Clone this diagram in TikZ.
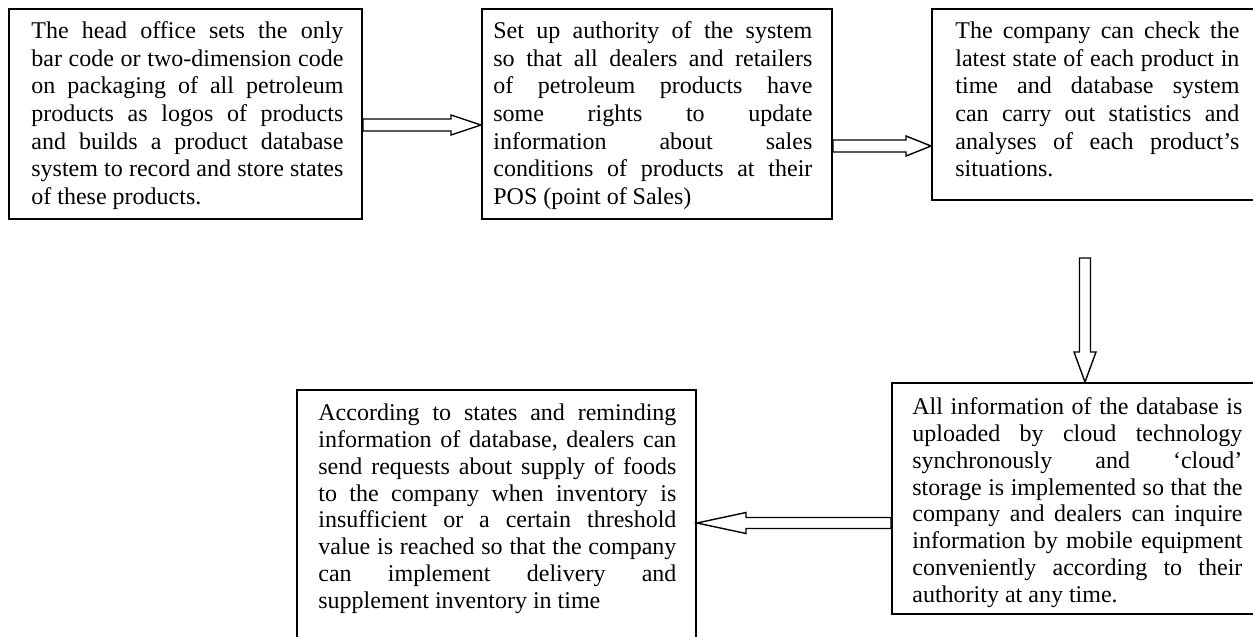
\documentclass[tikz,border=0pt]{standalone}
\usepackage{fontspec}
\setmainfont{Liberation Serif}[Ligatures=NoCommon]
\usetikzlibrary{calc}
\tikzset{
  box/.style={draw, line width=1pt, inner sep=0pt},
  txt/.style={anchor=north west, inner sep=0pt, align=justify,
    font=\fontsize{12}{13.8}\selectfont,
    execute at begin node={\frenchspacing\hyphenpenalty=10000\relax\exhyphenpenalty=10000\relax\tolerance=10000\relax}},
  txtlow/.style={txt, font=\fontsize{12}{13.4}\selectfont},
  arr/.style={draw, line width=0.7pt, fill=white, line join=miter}
}
% #1 start, #2 tip, #3 shaft half width, #4 head half width, #5 head length
\newcommand\blockarr[5]{%
  \coordinate (hb) at ($(#2)!#5!(#1)$);
  \draw[arr] ($(#1)!#3!-90:(#2)$) -- ($(hb)!#3!90:(#1)$) -- ($(hb)!#4!90:(#1)$)
    -- (#2) -- ($(hb)!#4!-90:(#1)$) -- ($(hb)!#3!-90:(#1)$) -- ($(#1)!#3!90:(#2)$) -- cycle;}
\begin{document}
\begin{tikzpicture}[x=0.5pt,y=-0.5pt]
\useasboundingbox (0,0) rectangle (1253,637);
\clip (0,0) rectangle (1253,637);
\fill[white] (0,0) rectangle (1253,637);

\node[box, minimum width=176.5pt, minimum height=105pt] (b1) at (185.5,114) {};
\node[box, minimum width=175pt, minimum height=105pt] (b2) at (657,114) {};
\node[box, minimum width=169pt, minimum height=95.5pt] (b3) at (1101,104.5) {};
\node[box, minimum width=189pt, minimum height=115.5pt] (b4) at (1081,498.5) {};
\node[box, minimum width=199.5pt, minimum height=135pt] (b5) at (496.5,525) {};

\node[txt, text width=156pt] (t1) at (31,19) {\strut The head office sets the only\linebreak
bar code or two-dimension code\linebreak
on packaging of all petroleum\linebreak
products as logos of products\linebreak
and builds a product database\linebreak
system to record and store states\linebreak
of these products.};

\node[txt, text width=159.5pt] (t2) at (493,19) {\strut Set up authority of the system\linebreak
so that all dealers and retailers\linebreak
of petroleum products have\linebreak
some rights to update\linebreak
information about sales\linebreak
conditions of products at their\linebreak
POS (point of Sales)};

\node[txt, text width=142pt] (t3) at (955,19) {\strut The company can check the\linebreak
latest state of each product in\linebreak
time and database system\linebreak
can carry out statistics and\linebreak
analyses of each product’s\linebreak
situations.};

\node[txtlow, text width=165pt] (t4) at (912,395.5) {\strut All information of the database is\linebreak
uploaded by cloud technology\linebreak
synchronously and ‘cloud’\linebreak
storage is implemented so that the\linebreak
company and dealers can inquire\linebreak
information by mobile equipment\linebreak
conveniently according to their\linebreak
authority at any time.};

\node[txtlow, text width=179pt] (t5) at (318,401.5) {\strut According to states and reminding\linebreak
information of database, dealers can\linebreak
send requests about supply of foods\linebreak
to the company when inventory is\linebreak
insufficient or a certain threshold\linebreak
value is reached so that the company\linebreak
can implement delivery and\linebreak
supplement inventory in time};

\coordinate (a1s) at (b1.east |- 0,125);
\coordinate (a1t) at (b2.west |- 0,125);
\coordinate (a2s) at (b2.east |- 0,146);
\coordinate (a2t) at (b3.west |- 0,146);
\coordinate (a3s) at (1085,258);
\coordinate (a3t) at (1085,0 |- b4.north);
\coordinate (a4s) at (b4.west |- 0,523);
\coordinate (a4t) at (b5.east |- 0,523);

\blockarr{a1s}{a1t}{3pt}{5pt}{15pt}
\blockarr{a2s}{a2t}{3pt}{5pt}{12.5pt}
\blockarr{a3s}{a3t}{2.75pt}{5.5pt}{15pt}
\blockarr{a4s}{a4t}{2.75pt}{5.25pt}{24.5pt}
\end{tikzpicture}
\end{document}
